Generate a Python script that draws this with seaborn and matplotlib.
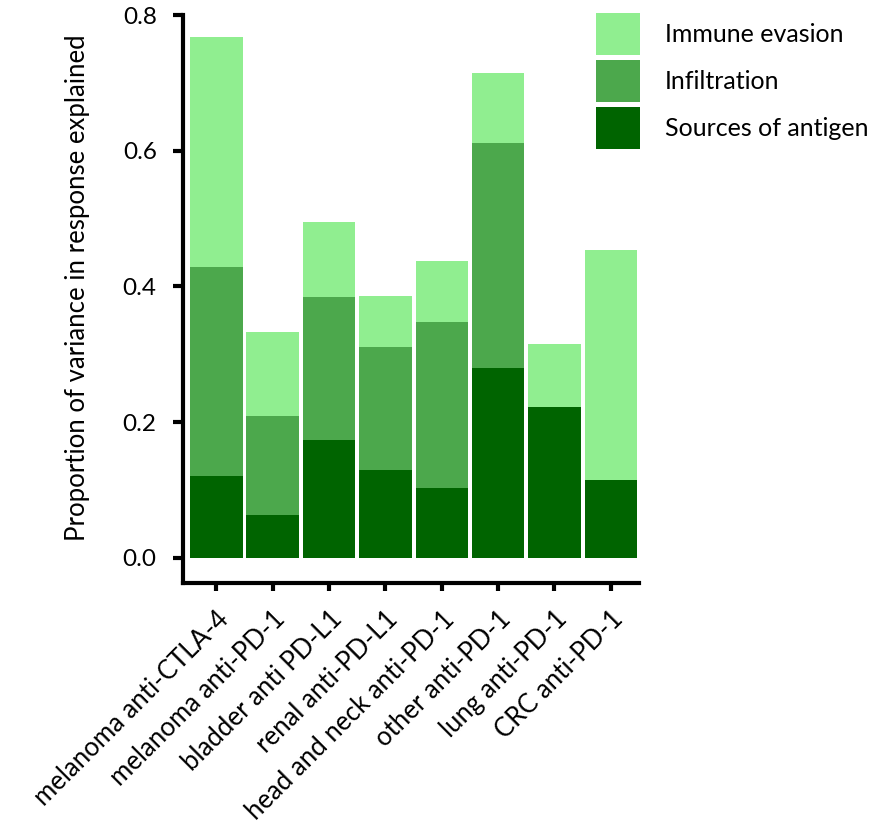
import numpy as np
import pandas as pd
import matplotlib
matplotlib.use("Agg")
import matplotlib.pyplot as plt
import seaborn as sns
from matplotlib.patches import Patch

# data
cohorts = ["melanoma anti-CTLA-4", "melanoma anti-PD-1", "bladder anti PD-L1",
           "renal anti-PD-L1", "head and neck anti-PD-1", "other anti-PD-1",
           "lung anti-PD-1", "CRC anti-PD-1"]
sources = [0.121, 0.063, 0.174, 0.130, 0.103, 0.280, 0.222, 0.114]
infiltration = [0.308, 0.146, 0.211, 0.181, 0.245, 0.332, 0.0, 0.0]
immune_evasion = [0.339, 0.124, 0.110, 0.075, 0.090, 0.102, 0.093, 0.340]

series_names = ["Immune evasion", "Infiltration", "Sources of antigen"]
colors = ["#90ee90", "#4ca84c", "#006400"]

df = pd.DataFrame({"cohort": cohorts, "sources": sources,
                   "infiltration": infiltration, "immune": immune_evasion})
df["cum_infil"] = df["sources"] + df["infiltration"]
df["total"] = df["cum_infil"] + df["immune"]

sns.set_style("ticks")
plt.rcParams["font.family"] = ["Lato", "DejaVu Sans"]
for k in ["text.color", "axes.labelcolor", "xtick.color", "ytick.color", "axes.edgecolor"]:
    plt.rcParams[k] = "black"

fig = plt.figure(figsize=(8.92, 8.25), dpi=100)
ax = fig.add_axes([0.2052, 0.2933, 0.7164 - 0.2052, 0.9818 - 0.2933])

# stacked bars: draw cumulative totals back to front
for col, c in zip(["total", "cum_infil", "sources"], colors):
    sns.barplot(data=df, x="cohort", y=col, color=c, width=0.93,
                order=cohorts, ax=ax, saturation=1, linewidth=0)

ax.set_xlim(-0.59, 7.5)
ax.set_ylim(-0.0373, 0.8)
ax.set_yticks([0.0, 0.2, 0.4, 0.6, 0.8])
ax.set_yticklabels(["0.0", "0.2", "0.4", "0.6", "0.8"])
ax.set_xlabel("")
ax.set_ylabel("Proportion of variance in response explained", fontsize=18.5)
ax.yaxis.set_label_coords(-0.205, 0.52)
ax.set_xticks(range(len(cohorts)))
ax.set_xticklabels(cohorts, rotation=45, ha="right", rotation_mode="anchor",
                   fontsize=18.5)
ax.tick_params(axis="y", labelsize=17.5, width=3, length=7, pad=12)
ax.tick_params(axis="x", width=3, length=6, pad=11)

sns.despine(ax=ax)
for s in ["left", "bottom"]:
    ax.spines[s].set_linewidth(3)
ax.spines["left"].set_bounds(-0.0373, 0.8)

handles = [Patch(facecolor=c, edgecolor="none") for c in colors]
ax.legend(handles, series_names, loc="upper left", bbox_to_anchor=(0.668, 0.984),
          bbox_transform=fig.transFigure, frameon=False, fontsize=18,
          handlelength=1.76, handleheight=2.2, labelspacing=0.2,
          handletextpad=1.0, borderpad=0, borderaxespad=0)

fig.savefig("out.png", dpi=100)
